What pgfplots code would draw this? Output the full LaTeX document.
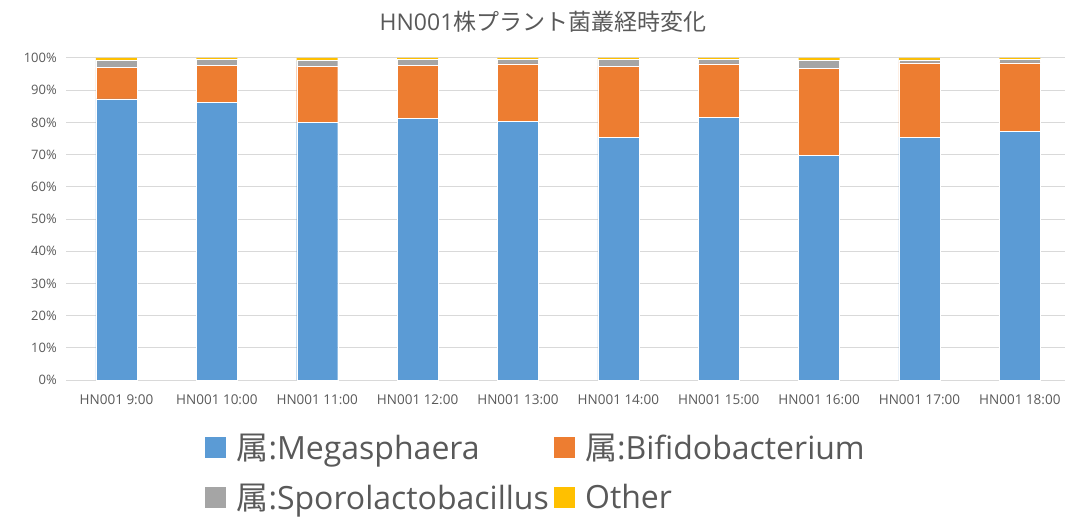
\documentclass[border=0pt]{standalone}
\usepackage{pgfplots}
\pgfplotsset{compat=1.18}
\usepackage{fontspec}
\setmainfont{Open Sans}
\newfontfamily\cjk{Noto Sans CJK JP}

\definecolor{cBlue}{HTML}{5B9BD5}
\definecolor{cOrange}{HTML}{ED7D31}
\definecolor{cGray}{HTML}{A5A5A5}
\definecolor{cYellow}{HTML}{FFC000}
\definecolor{txt}{HTML}{595959}
\definecolor{gridc}{HTML}{D9D9D9}

\begin{document}
\begin{tikzpicture}[x=1pt,y=1pt]
\path[use as bounding box] (0,0) rectangle (1065,517);
\node[text=txt, font=\fontsize{23}{27}\selectfont] at (543,495) {HN001{\cjk 株プラント菌叢経時変化}};
\begin{axis}[
    at={(66.3pt,137pt)}, anchor=south west,
    scale only axis,
    width=998.7pt, height=322pt,
    ybar stacked,
    bar width=41pt,
    xmin=-0.5, xmax=9.45,
    ymin=0, ymax=100,
    xtick={0,...,9},
    xticklabels={HN001 9:00,HN001 10:00,HN001 11:00,HN001 12:00,HN001 13:00,HN001 14:00,HN001 15:00,HN001 16:00,HN001 17:00,HN001 18:00},
    ytick={0,10,...,100},
    yticklabels={0\%,10\%,20\%,30\%,40\%,50\%,60\%,70\%,80\%,90\%,100\%},
    /pgf/number format/assume math mode=true,
    tick style={draw=none},
    axis line style={draw=none},
    ymajorgrids=true,
    grid style={gridc, line width=1pt},
    tick label style={text=txt},
    xticklabel style={yshift=-11pt, font=\fontsize{13.5}{15}\selectfont},
    yticklabel style={xshift=-6pt, font=\fontsize{13}{15}\selectfont},
    clip=false,
    legend columns=2,
    legend cell align=left,
    legend style={
        at={(0.139,-0.16)}, anchor=north west,
        draw=none, fill=none, inner sep=0pt,
        text=txt, font=\fontsize{32}{36}\selectfont,
        nodes={inner xsep=5pt},
        /tikz/every even column/.append style={column sep=0pt},
        row sep=19pt,
    },
    legend image code/.code={\fill[#1,draw=none] (0pt,-10.5pt) rectangle (21pt,10.5pt); \path (26pt,0pt);},
]
\addplot[fill=cBlue, draw=white, line width=0.4pt] coordinates {
 (0,87.3) (1,86.2) (2,80.0) (3,81.3) (4,80.3) (5,75.4) (6,81.5) (7,69.7) (8,75.4) (9,77.3)};
\addplot[fill=cOrange, draw=white, line width=0.4pt] coordinates {
 (0,9.7) (1,11.6) (2,17.3) (3,16.4) (4,17.9) (5,21.9) (6,16.7) (7,27.0) (8,23.1) (9,21.2)};
\addplot[fill=cGray, draw=white, line width=0.4pt] coordinates {
 (0,2.3) (1,1.7) (2,1.9) (3,1.8) (4,1.4) (5,2.2) (6,1.4) (7,2.5) (8,0.9) (9,1.0)};
\addplot[fill=cYellow, draw=none] coordinates {
 (0,0.7) (1,0.5) (2,0.8) (3,0.5) (4,0.4) (5,0.5) (6,0.4) (7,0.8) (8,0.6) (9,0.5)};
\legend{{\cjk 属}:Megasphaera,{\cjk 属}:Bifidobacterium,{\cjk 属}:Sporolactobacillus,Other}
\draw[gridc, line width=1pt] (rel axis cs:0,0) -- (rel axis cs:1,0);
\end{axis}
\end{tikzpicture}
\end{document}
